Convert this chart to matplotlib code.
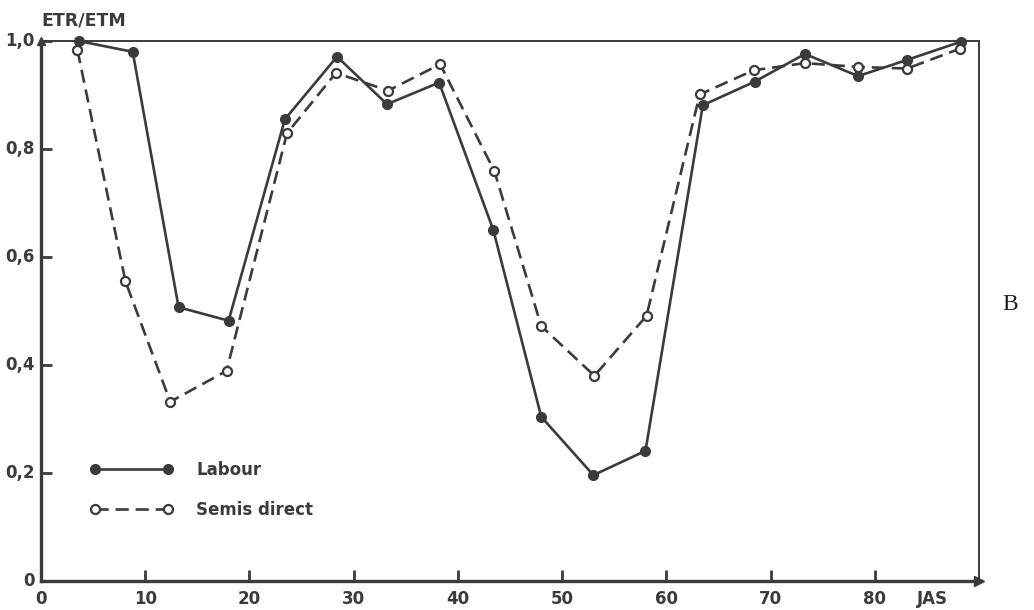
import matplotlib.pyplot as plt

# ETR/ETM ratio, labour vs semis direct (days after sowing)
days_labour = [3.6, 8.8, 13.2, 18.0, 23.4, 28.4, 33.2, 38.2, 43.4, 48.0,
               53.0, 58.0, 63.5, 68.5, 73.3, 78.4, 83.1, 88.3]
ratio_labour = [1.00, 0.98, 0.507, 0.482, 0.855, 0.971, 0.883, 0.923, 0.65, 0.304,
                0.196, 0.241, 0.881, 0.925, 0.976, 0.935, 0.965, 0.999]

days_semis = [3.5, 8.1, 12.4, 17.8, 23.6, 28.3, 33.3, 38.3, 43.5, 48.0,
              53.1, 58.1, 63.2, 68.4, 73.3, 78.4, 83.1, 88.2]
ratio_semis = [0.983, 0.555, 0.332, 0.389, 0.829, 0.941, 0.908, 0.957, 0.759, 0.472,
               0.380, 0.491, 0.901, 0.946, 0.959, 0.952, 0.949, 0.986]

xticks = [10, 20, 30, 40, 50, 60, 70, 80]
yticks = [0.2, 0.4, 0.6, 0.8, 1.0]
ytick_labels = ["0,2", "0,4", "0,6", "0,8", "1,0"]

ink = "#3b3b3b"
plt.rcParams["font.family"] = ["DejaVu Sans"]

fig = plt.figure(figsize=(10.34, 6.10), dpi=100)
ax = fig.add_axes([41 / 1034, 29 / 610, 938 / 1034, 540 / 610])

ax.plot(days_labour, ratio_labour, color=ink, lw=1.9, marker="o", ms=7,
        mfc=ink, mec=ink, label="Labour", clip_on=False, zorder=3)
ax.plot(days_semis, ratio_semis, color=ink, lw=1.9, ls=(0, (5, 2.6)), marker="o",
        ms=6.5, mfc="white", mec=ink, mew=1.6, label="Semis direct",
        clip_on=False, zorder=4)

ax.set_xlim(0, 90)
ax.set_ylim(0, 1.0)

ax.set_xticks(xticks)
ax.set_xticklabels([])
ax.set_yticks(yticks)
ax.set_yticklabels([])
ax.tick_params(direction="in", length=8, width=2, color=ink)

# tick labels placed as text to mimic the old figure
for x in [0] + xticks:
    ax.text(x, -0.016, str(x), ha="center", va="top", fontsize=12,
            fontweight="bold", color=ink)
ax.text(85.5, -0.016, "JAS", ha="center", va="top", fontsize=12,
        fontweight="bold", color=ink)
for y, lab in zip([0] + yticks, ["0"] + ytick_labels):
    ax.text(-0.6, y, lab, ha="right", va="center", fontsize=12,
            fontweight="bold", color=ink)
ax.text(0, 1.022, "ETR/ETM", ha="left", va="bottom", fontsize=12.5,
        fontweight="bold", color=ink)

for s in ["left", "bottom"]:
    ax.spines[s].set_linewidth(2.4)
    ax.spines[s].set_color(ink)
for s in ["top", "right"]:
    ax.spines[s].set_linewidth(1.4)
    ax.spines[s].set_color(ink)

# arrow heads on the axes
ax.plot(1, 0, ">", color=ink, ms=7, transform=ax.transAxes, clip_on=False)
ax.plot(0, 1, "^", color=ink, ms=6, transform=ax.transAxes, clip_on=False)

leg = ax.legend(loc="upper left", bbox_to_anchor=(0.036, 0.25), frameon=False,
                handlelength=5.0, numpoints=2, labelspacing=1.3,
                handletextpad=1.4, prop={"size": 12, "weight": "bold"})
for t in leg.get_texts():
    t.set_color(ink)

fig.text(1010 / 1034, 1 - 305 / 610, "B", ha="center", va="center",
         fontsize=17, family="Liberation Serif", color="#222222")

fig.savefig("out.png", dpi=100, facecolor="white")
